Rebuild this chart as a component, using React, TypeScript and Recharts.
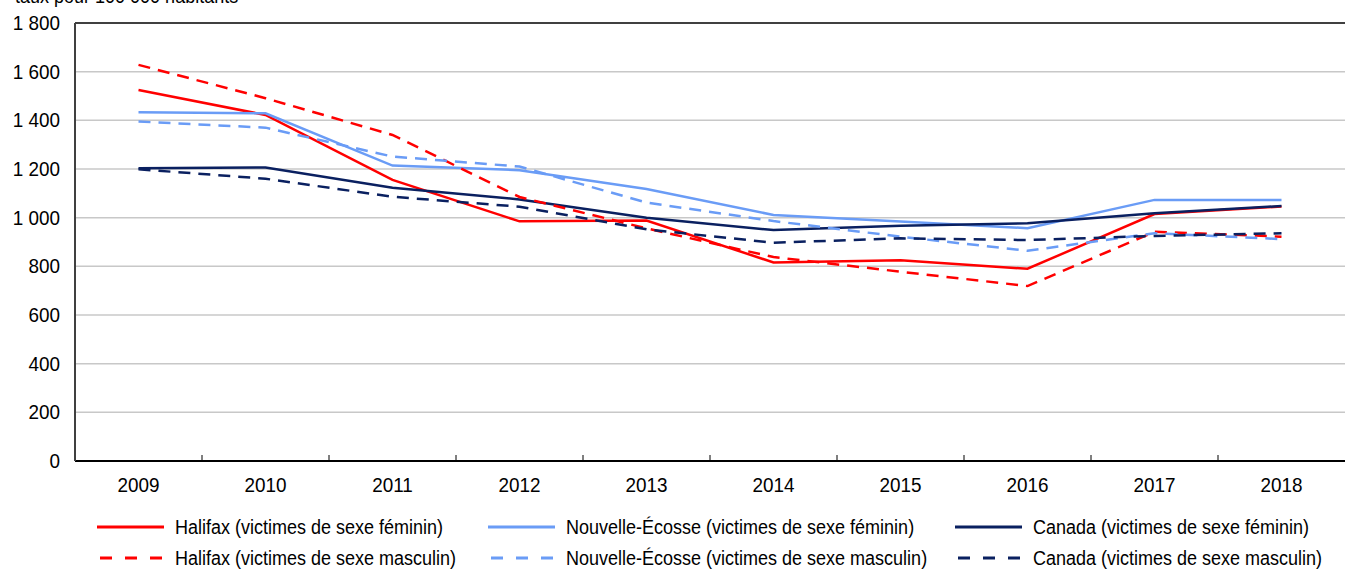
import React from 'react';
import { LineChart, Line, XAxis, YAxis, CartesianGrid, ReferenceLine } from 'recharts';

const years = ['2009', '2010', '2011', '2012', '2013', '2014', '2015', '2016', '2017', '2018'];
const halifaxF = [1525, 1422, 1155, 985, 988, 816, 825, 790, 1015, 1046];
const halifaxM = [1628, 1491, 1340, 1085, 956, 838, 778, 719, 942, 922];
const nsF = [1433, 1429, 1214, 1195, 1118, 1011, 984, 957, 1073, 1073];
const nsM = [1395, 1370, 1251, 1210, 1062, 986, 922, 864, 936, 912];
const canadaF = [1203, 1206, 1123, 1075, 1000, 949, 967, 977, 1018, 1048];
const canadaM = [1199, 1160, 1086, 1045, 952, 897, 915, 908, 925, 936];
const yTicks = [0, 200, 400, 600, 800, 1000, 1200, 1400, 1600, 1800];

const data = years.map((year, i) => ({
  year,
  halifaxF: halifaxF[i],
  halifaxM: halifaxM[i],
  nsF: nsF[i],
  nsM: nsM[i],
  canadaF: canadaF[i],
  canadaM: canadaM[i],
}));

const RED = '#ff0000';
const LIGHT = '#6a9cf6';
const NAVY = '#0a2060';
const FONT = "'Liberation Sans', Arial, sans-serif";
const SQUEEZE = 0.9; // police étroite simulée
const DASH = '12 8';

const series = [
  { key: 'halifaxF', name: 'Halifax (victimes de sexe féminin)', color: RED, dashed: false },
  { key: 'nsF', name: 'Nouvelle-Écosse (victimes de sexe féminin)', color: LIGHT, dashed: false },
  { key: 'canadaF', name: 'Canada (victimes de sexe féminin)', color: NAVY, dashed: false },
  { key: 'halifaxM', name: 'Halifax (victimes de sexe masculin)', color: RED, dashed: true },
  { key: 'nsM', name: 'Nouvelle-Écosse (victimes de sexe masculin)', color: LIGHT, dashed: true },
  { key: 'canadaM', name: 'Canada (victimes de sexe masculin)', color: NAVY, dashed: true },
];

const W = 1345;
const H = 572;
const PLOT_LEFT = 75;
const BAND = (W - PLOT_LEFT) / years.length;

const fmt = (v: number) => String(v).replace(/\B(?=(\d{3})+(?!\d))/g, ' ');

// étiquette de l'axe X + petite graduation entre les catégories
const XTick = ({ x, y, payload, index }: any) => (
  <g>
    {index < years.length - 1 && (
      <line x1={x + BAND / 2} x2={x + BAND / 2} y1={y} y2={y - 6} stroke="#000" strokeWidth={1} />
    )}
    <text
      transform={`translate(${x},${y + 31}) scale(${SQUEEZE},1)`}
      textAnchor="middle"
      fill="#000"
      fontSize={21}
      fontFamily={FONT}
    >
      {payload.value}
    </text>
  </g>
);

const YTick = ({ x, y, payload }: any) => (
  <text
    transform={`translate(${x},${y + 7}) scale(${SQUEEZE},1)`}
    textAnchor="end"
    fill="#000"
    fontSize={21}
    fontFamily={FONT}
  >
    {fmt(payload.value)}
  </text>
);

const legendCols = [97, 488, 955];
const legendRows = [527, 558];

export default function App() {
  return (
    <div style={{ position: 'absolute', left: 0, top: 0, width: W, height: H, overflow: 'hidden', background: '#fff' }}>
      <div
        style={{
          position: 'absolute',
          left: 15,
          top: -15,
          fontFamily: FONT,
          fontSize: 20,
          color: '#000',
          whiteSpace: 'nowrap',
          transform: `scaleX(${SQUEEZE})`,
          transformOrigin: 'left',
        }}
      >
        taux pour 100 000 habitants
      </div>
      <LineChart width={W} height={H} data={data} margin={{ top: 23, right: 0, bottom: 71, left: 0 }}>
        <CartesianGrid vertical={false} stroke="#c8c8c8" strokeWidth={1.5} />
        <XAxis
          dataKey="year"
          padding={{ left: BAND / 2, right: BAND / 2 }}
          height={40}
          tickSize={0}
          tickMargin={0}
          axisLine={{ stroke: '#000', strokeWidth: 2 }}
          tickLine={false}
          tick={<XTick />}
          interval={0}
        />
        <YAxis
          domain={[0, 1800]}
          ticks={yTicks}
          width={PLOT_LEFT}
          tickSize={0}
          tickMargin={15}
          axisLine={{ stroke: '#404040', strokeWidth: 2 }}
          tickLine={false}
          tick={<YTick />}
          interval={0}
        />
        <ReferenceLine y={1800} stroke="#404040" strokeWidth={2} />
        {series.map((s) => (
          <Line
            key={s.key}
            dataKey={s.key}
            name={s.name}
            type="linear"
            stroke={s.color}
            strokeWidth={2.5}
            strokeDasharray={s.dashed ? DASH : undefined}
            dot={false}
            activeDot={false}
            isAnimationActive={false}
          />
        ))}
      </LineChart>
      {series.map((s, i) => {
        const left = legendCols[i % 3];
        const cy = legendRows[Math.floor(i / 3)];
        return (
          <React.Fragment key={s.key}>
            <svg width={67} height={6} style={{ position: 'absolute', left, top: cy - 3 }}>
              <line
                x1={s.dashed ? 3 : 0}
                x2={67}
                y1={3}
                y2={3}
                stroke={s.color}
                strokeWidth={3}
                strokeDasharray={s.dashed ? '12 13' : undefined}
              />
            </svg>
            <div
              style={{
                position: 'absolute',
                left: left + 78,
                top: cy - 12,
                height: 24,
                lineHeight: '24px',
                fontFamily: FONT,
                fontSize: 20,
                color: '#000',
                whiteSpace: 'nowrap',
                transform: `scaleX(${SQUEEZE})`,
                transformOrigin: 'left',
              }}
            >
              {s.name}
            </div>
          </React.Fragment>
        );
      })}
    </div>
  );
}
